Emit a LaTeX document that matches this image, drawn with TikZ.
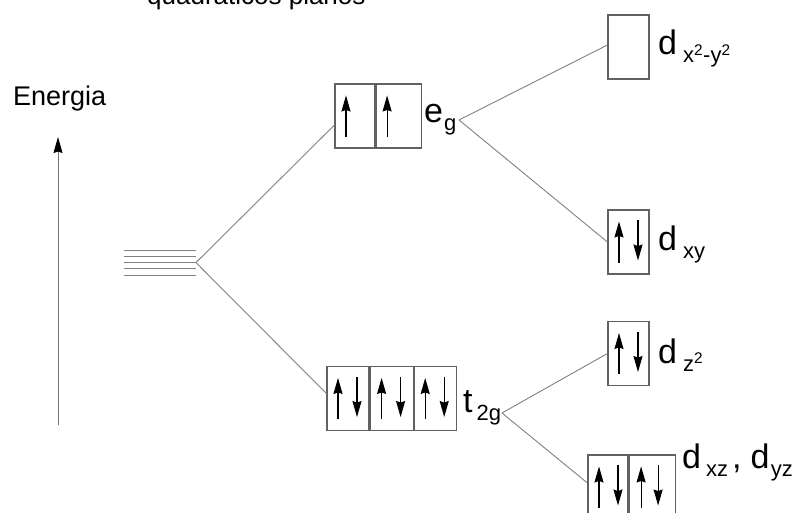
\documentclass[tikz,border=0pt]{standalone}
\usepackage{fontspec}
\setmainfont{Liberation Sans}
\usetikzlibrary{positioning,arrows.meta}

\newcommand\orb[3][5pt]{{\fontsize{34}{34}\selectfont #2}\hspace{#1}\raisebox{-8pt}{\fontsize{22}{22}\selectfont #3}}
\newcommand\upspin[2]{\draw[spin] ([xshift=#2,yshift=12pt]#1.south) -- ([xshift=#2,yshift=-12pt]#1.north);}
\newcommand\downspin[2]{\draw[spin] ([xshift=#2,yshift=-11pt]#1.north) -- ([xshift=#2,yshift=14pt]#1.south);}

\begin{document}
\begin{tikzpicture}[
  x = 1pt, y = -1pt,
  node distance = 0pt,
  cell/.style = {draw=black!62, line width=1.1pt, minimum width=41pt,
                 minimum height=64pt, inner sep=0pt},
  link/.style = {draw=black!50, line width=0.9pt},
  spin/.style = {-{Stealth[length=16pt,width=9pt,inset=1.5pt,black]}, line width=1.2pt},
  lab/.style  = {anchor=base west, inner sep=0pt}
]
  \useasboundingbox (0,0) rectangle (793,513);

  % title and energy axis
  \node[lab, font=\fontsize{26}{26}\selectfont] (title) at (147,5) {quadráticos planos};
  \node[lab, font=\fontsize{27}{27}\selectfont] (energia) at (13,106) {Energia};
  \coordinate (elo) at (58,425);
  \coordinate (ehi) at (58,137);
  \draw[spin, draw=black!55, line width=0.9pt] (elo) -- (ehi);

  % degenerate d levels
  \foreach \y in {250,256.3,262.6,268.9,275.2}
    \draw[link] (124,\y) -- (196,\y);
  \coordinate (deg) at (196,262.6);

  % octahedral levels
  \node[cell, minimum width=40pt] (e1) at (355,116) {};
  \node[cell, minimum width=45pt, right=of e1] (e2) {};
  \node[lab] (egl) at (424,123) {\orb[1pt]{e}{g}};
  \coordinate (egr) at (459,120);

  \node[cell, minimum width=42pt] (t1) at (348,398.5) {};
  \node[cell, minimum width=43pt, right=of t1] (t2) {};
  \node[cell, minimum width=42pt, right=of t2] (t3) {};
  \node[lab] (tgl) at (463,412) {\orb[4pt]{t}{2g}};
  \coordinate (tgr) at (502,413);

  % square planar levels
  \node[cell] (dx2) at (628.5,47) {};
  \node[cell] (dxy) at (628.5,242) {};
  \node[cell] (dz2) at (628.5,353.5) {};
  \node[cell, minimum width=40pt] (xz1) at (608,487) {};
  \node[cell, minimum width=46pt, right=of xz1] (xz2) {};

  \node[lab] (dx2l) at (658,55)  {\orb[6pt]{d}{x\textsuperscript{2}-y\textsuperscript{2}}};
  \node[lab] (dxyl) at (658,251) {\orb[6pt]{d}{xy}};
  \node[lab] (dz2l) at (658,363) {\orb[6pt]{d}{z\textsuperscript{2}}};
  \node[lab] (dxzl) at (682,468) {\orb[5pt]{d}{xz}\hspace{4pt}{\fontsize{34}{34}\selectfont ,}\hspace{9pt}\orb[1.5pt]{d}{yz}};

  % electrons
  \upspin{e1}{-9pt}
  \upspin{e2}{-11.5pt}
  \foreach \c in {t1,t2,t3}{
    \upspin{\c}{-10pt}
    \downspin{\c}{9pt}
  }
  \upspin{dxy}{-9.5pt}
  \downspin{dxy}{9.5pt}
  \upspin{dz2}{-9.5pt}
  \downspin{dz2}{9.5pt}
  \upspin{xz1}{-9pt}
  \downspin{xz1}{10pt}
  \upspin{xz2}{-11pt}
  \downspin{xz2}{6pt}

  % splitting lines
  \draw[link] (deg) -- ([yshift=-9pt]e1.west);
  \draw[link] (deg) -- ([yshift=5pt]t1.west);
  \draw[link] (egr) -- ([yshift=2pt]dx2.west);
  \draw[link] (egr) -- (dxy.west);
  \draw[link] (tgr) -- (dz2.west);
  \draw[link] (tgr) -- ([yshift=4pt]xz1.west);
\end{tikzpicture}
\end{document}
